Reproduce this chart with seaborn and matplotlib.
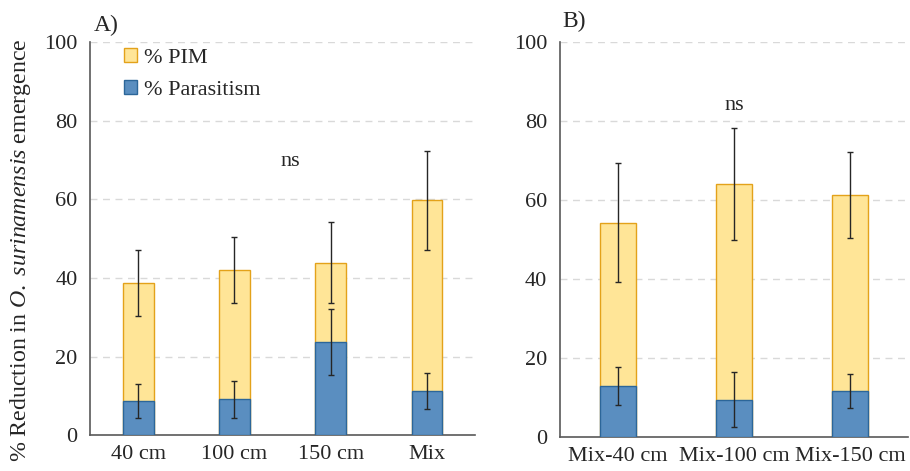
import matplotlib
matplotlib.use("Agg")
import matplotlib.pyplot as plt
import matplotlib.patches as mpatches
import seaborn as sns
import numpy as np
import pandas as pd

# panel A values
cats_a = ["40 cm", "100 cm", "150 cm", "Mix"]
para_a = [8.7, 9.1, 23.7, 11.3]
para_err_a = [4.4, 4.6, 8.5, 4.6]
total_a = [38.8, 41.9, 43.9, 59.7]
total_err_a = [8.4, 8.4, 10.4, 12.6]

# panel B values
cats_b = ["Mix-40 cm", "Mix-100 cm", "Mix-150 cm"]
para_b = [12.9, 9.5, 11.6]
para_err_b = [4.9, 6.9, 4.3]
total_b = [54.3, 64.1, 61.2]
total_err_b = [15.1, 14.2, 10.9]

sns.set_style("white")
plt.rcParams['font.family'] = ['Liberation Serif', 'DejaVu Serif']
plt.rcParams['mathtext.fontset'] = 'custom'
plt.rcParams['mathtext.rm'] = 'Liberation Serif'
plt.rcParams['mathtext.it'] = 'Liberation Serif:italic'

yellow = "#FFE597"
yellow_edge = "#E3A21A"
blue = "#5A8EC0"
blue_edge = "#2C6699"
axis_col = "#595959"
fs = 16


def draw_panel(ax, cats, para, para_err, total, total_err, width):
    df = pd.DataFrame({"cat": cats, "para": para, "total": total})
    ax.set_axisbelow(True)
    for v in [20, 40, 60, 80, 100]:
        ax.axhline(v, color="#d9d9d9", linestyle=(0, (5, 4)), linewidth=1, zorder=0)
    sns.barplot(data=df, x="cat", y="total", color=yellow, edgecolor=yellow_edge,
                linewidth=1, width=width, saturation=1, ax=ax, zorder=2)
    sns.barplot(data=df, x="cat", y="para", color=blue, edgecolor=blue_edge,
                linewidth=1, width=width, saturation=1, ax=ax, zorder=3)
    pos = np.arange(len(cats))
    ax.errorbar(pos, total, yerr=total_err, fmt="none", ecolor="#262626",
                elinewidth=1, capsize=2.5, capthick=1, zorder=4)
    ax.errorbar(pos, para, yerr=para_err, fmt="none", ecolor="#262626",
                elinewidth=1, capsize=2.5, capthick=1, zorder=4)
    ax.set_xlim(-0.5, len(cats) - 0.5)
    ax.set_ylim(0, 100)
    ax.set_yticks([0, 20, 40, 60, 80, 100])
    ax.set_xlabel("")
    ax.set_ylabel("")
    # ticks at category boundaries
    ax.set_xticks(np.arange(len(cats) + 1) - 0.5, minor=False)
    ax.set_xticklabels([])
    ax.set_xticks(pos, minor=True)
    ax.set_xticklabels(cats, minor=True, fontsize=fs)
    ax.tick_params(axis="x", which="major", direction="out", length=7,
                   color=axis_col, width=1)
    ax.tick_params(axis="x", which="minor", length=0, pad=7)
    ax.tick_params(axis="y", direction="out", length=5, color=axis_col,
                   width=1, labelsize=fs, pad=4)
    for s in ["top", "right"]:
        ax.spines[s].set_visible(False)
    for s in ["left", "bottom"]:
        ax.spines[s].set_color(axis_col)
        ax.spines[s].set_linewidth(1.2)


fig = plt.figure(figsize=(9.1, 4.71), dpi=100)
ax_a = fig.add_axes([0.099, 0.076, 0.423, 0.835])
ax_b = fig.add_axes([0.615, 0.072, 0.383, 0.839])

draw_panel(ax_a, cats_a, para_a, para_err_a, total_a, total_err_a, 0.32)
draw_panel(ax_b, cats_b, para_b, para_err_b, total_b, total_err_b, 0.31)

ax_a.set_ylabel(r"% Reduction in $\mathit{O.\ surinamensis}$ emergence",
                fontsize=17.2)
ax_a.yaxis.set_label_coords(-0.148, 0.47)

ax_a.text(1.58, 69.5, "ns", fontsize=fs, ha="center", va="center")
ax_b.text(1.0, 84, "ns", fontsize=fs, ha="center", va="center")

fig.text(0.103, 0.945, "A)", fontsize=17, ha="left", va="center")
fig.text(0.618, 0.955, "B)", fontsize=17, ha="left", va="center")

handles = [mpatches.Patch(facecolor=yellow, edgecolor=yellow_edge, label="% PIM"),
           mpatches.Patch(facecolor=blue, edgecolor=blue_edge, label="% Parasitism")]
ax_a.legend(handles=handles, loc="upper left", bbox_to_anchor=(0.035, 1.035),
            frameon=False, fontsize=fs, handlelength=0.6, handleheight=0.6,
            handletextpad=0.3, labelspacing=0.55)

fig.savefig("out.png", dpi=100)
